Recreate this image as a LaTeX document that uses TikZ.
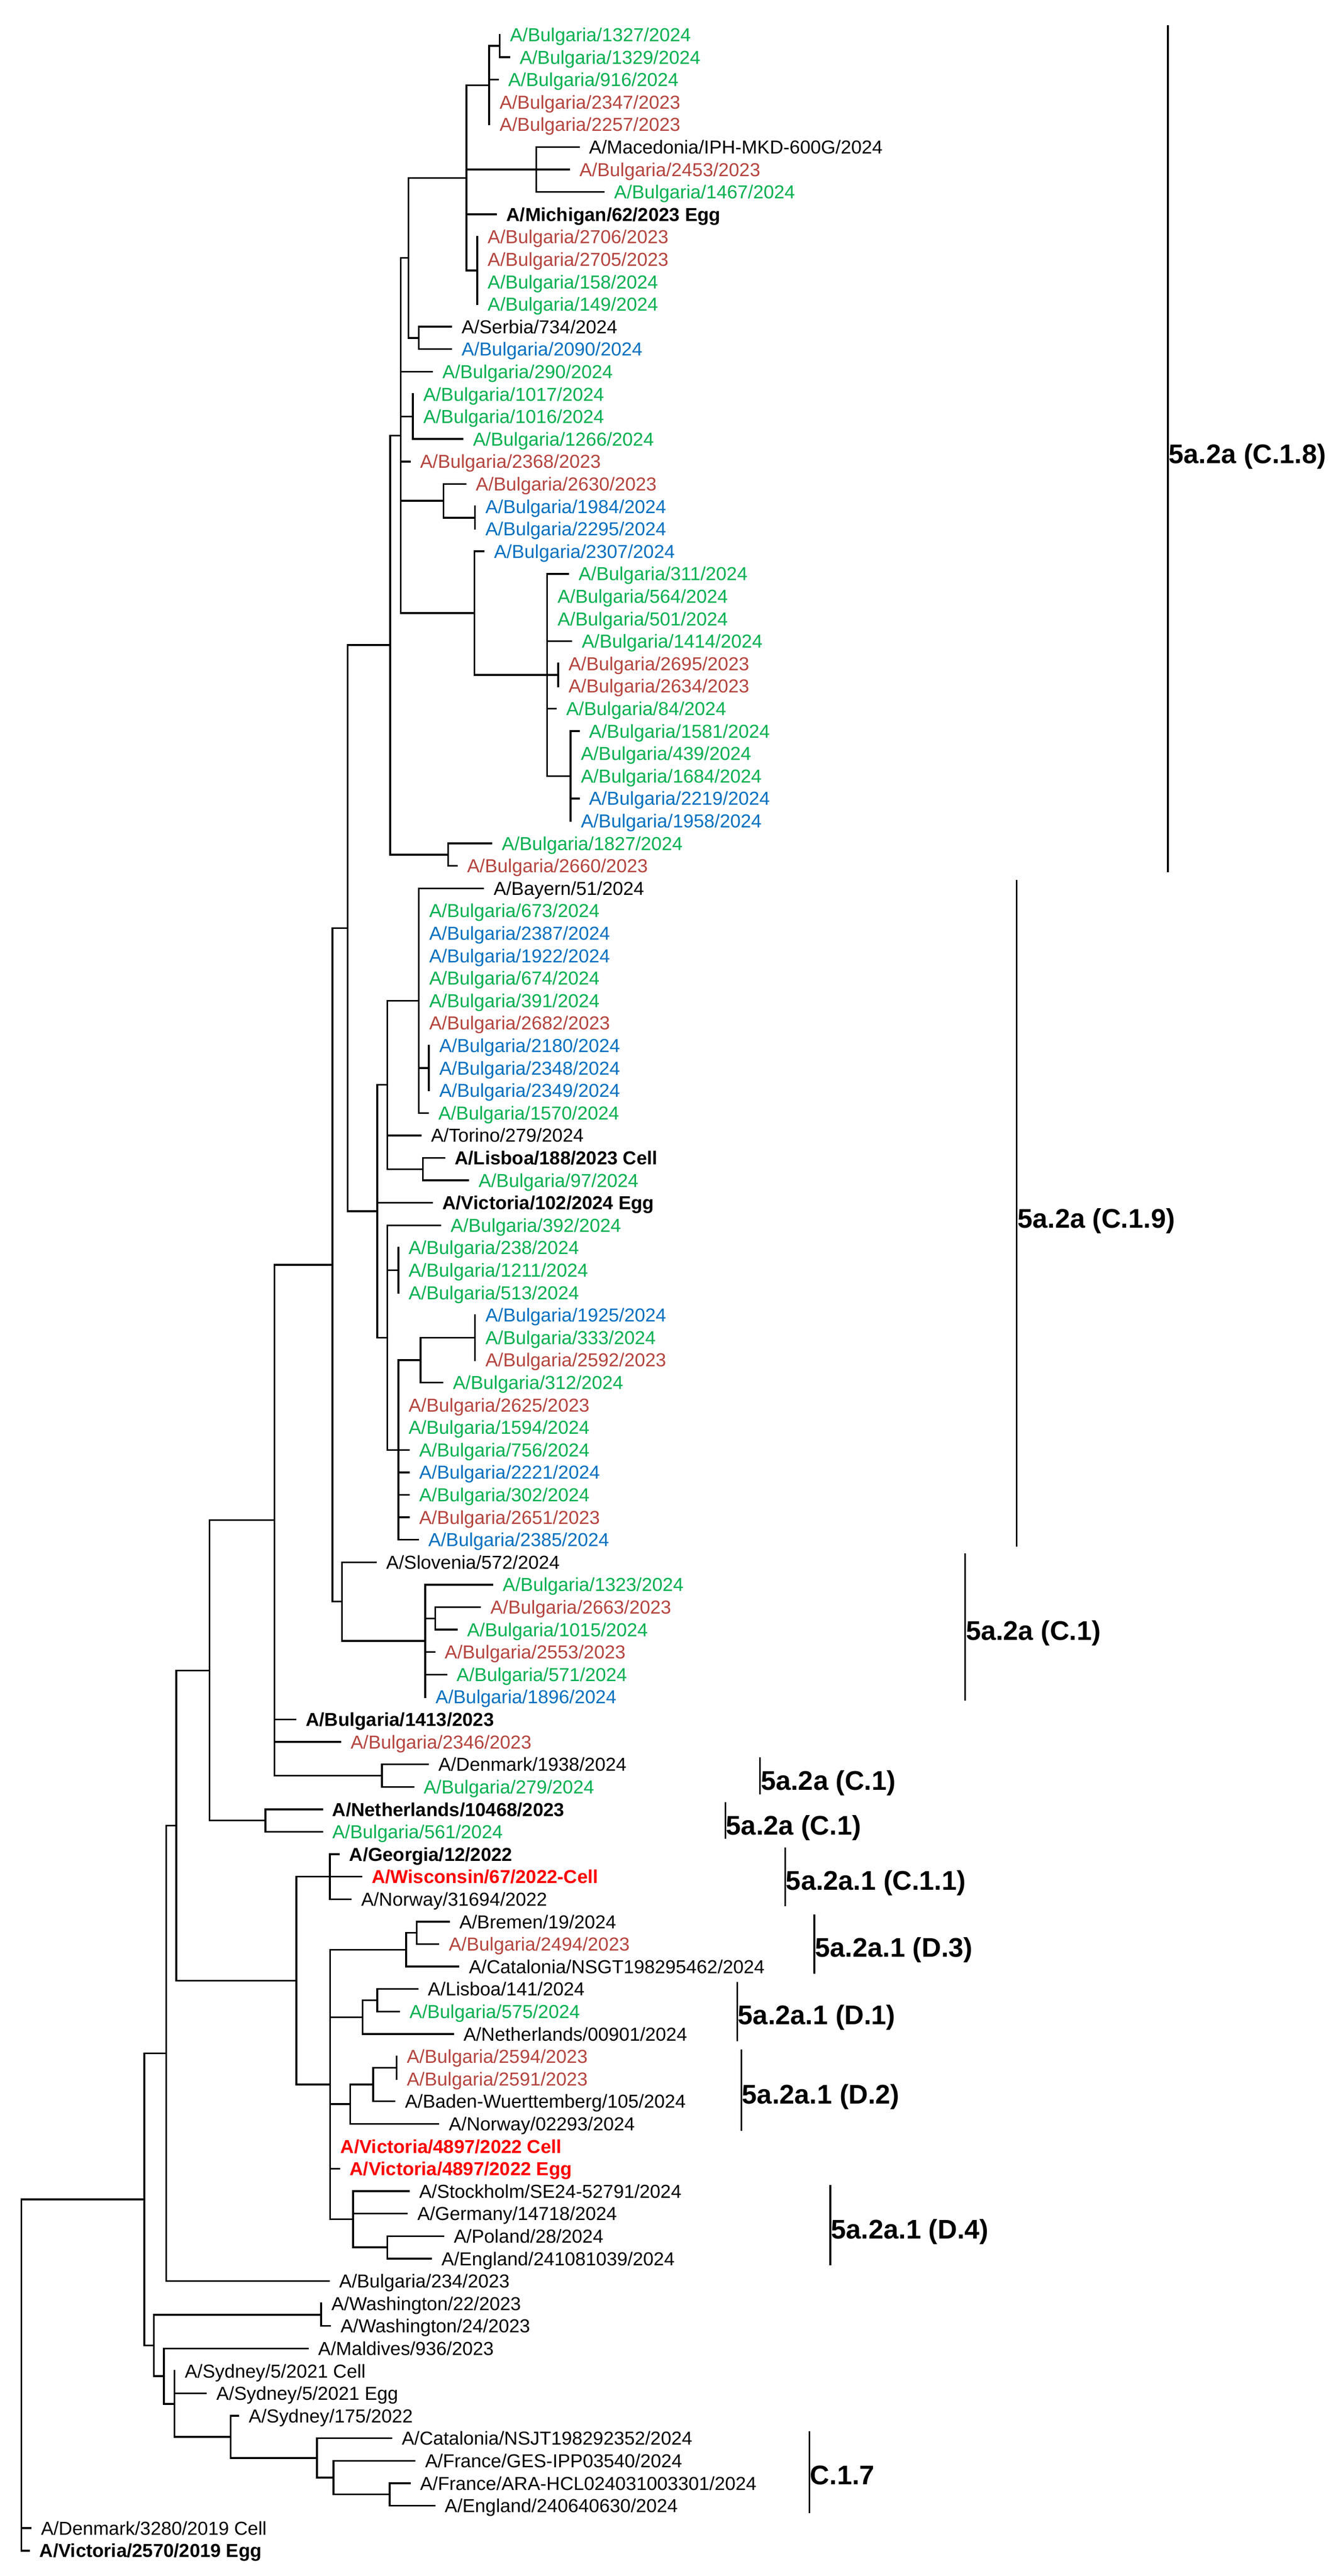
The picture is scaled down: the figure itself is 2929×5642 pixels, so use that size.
\documentclass[tikz,border=0pt]{standalone}
\usepackage{fontspec}
\setmainfont{Liberation Sans}
\definecolor{cg}{HTML}{00B050}
\definecolor{cr}{HTML}{B5443E}
\definecolor{cb}{HTML}{0070C0}
\definecolor{cR}{HTML}{FF0000}
\tikzset{
 br/.style={line width=1.1pt, line cap=rect},
 bk/.style={line width=1.1pt},
 lab/.style={anchor=west, inner sep=0pt, text height=8.4pt, text depth=0pt, font=\fontsize{11.7}{14}\selectfont},
 tg/.style={text=cg}, tr/.style={text=cr}, tb/.style={text=cb}, tk/.style={text=black},
 tkb/.style={text=black, font=\fontsize{11.7}{14}\selectfont\bfseries},
 trb/.style={text=cR, font=\fontsize{11.7}{14}\selectfont\bfseries},
 clab/.style={anchor=west, inner sep=0pt, text height=12pt, text depth=0pt, font=\fontsize{16.8}{20}\selectfont\bfseries}
}
\newcommand\lf[5]{\coordinate (#1) at (#2,{76+(#3-1)*49.2});\node[lab,#4] (#1t) at ([xshift=0.22cm]#1) {#5};}
\newcommand\edges[2]{\foreach \c in {#2}{\draw[br] (#1) |- (\c);}}
\begin{document}
\begin{tikzpicture}[x=0.01cm,y=-0.01cm]
\fill[white] (0,0) rectangle (2929,5642);
\useasboundingbox (0,0) rectangle (2929,5642);
% leaves
\lf{l1}{1094}{1}{tg}{A/Bulgaria/1327/2024}
\lf{l2}{1115}{2}{tg}{A/Bulgaria/1329/2024}
\lf{l3}{1090}{3}{tg}{A/Bulgaria/916/2024}
\lf{l4}{1071}{4}{tr}{A/Bulgaria/2347/2023}
\lf{l5}{1071}{5}{tr}{A/Bulgaria/2257/2023}
\lf{l6}{1267}{6}{tk}{A/Macedonia/IPH-MKD-600G/2024}
\lf{l7}{1246}{7}{tr}{A/Bulgaria/2453/2023}
\lf{l8}{1322}{8}{tg}{A/Bulgaria/1467/2024}
\lf{l9}{1086}{9}{tkb}{A/Michigan/62/2023 Egg}
\lf{l10}{1045}{10}{tr}{A/Bulgaria/2706/2023}
\lf{l11}{1045}{11}{tr}{A/Bulgaria/2705/2023}
\lf{l12}{1045}{12}{tg}{A/Bulgaria/158/2024}
\lf{l13}{1045}{13}{tg}{A/Bulgaria/149/2024}
\lf{l14}{988}{14}{tk}{A/Serbia/734/2024}
\lf{l15}{988}{15}{tb}{A/Bulgaria/2090/2024}
\lf{l16}{946}{16}{tg}{A/Bulgaria/290/2024}
\lf{l17}{904}{17}{tg}{A/Bulgaria/1017/2024}
\lf{l18}{904}{18}{tg}{A/Bulgaria/1016/2024}
\lf{l19}{1013}{19}{tg}{A/Bulgaria/1266/2024}
\lf{l20}{897}{20}{tr}{A/Bulgaria/2368/2023}
\lf{l21}{1019}{21}{tr}{A/Bulgaria/2630/2023}
\lf{l22}{1040}{22}{tb}{A/Bulgaria/1984/2024}
\lf{l23}{1040}{23}{tb}{A/Bulgaria/2295/2024}
\lf{l24}{1059}{24}{tb}{A/Bulgaria/2307/2024}
\lf{l25}{1244}{25}{tg}{A/Bulgaria/311/2024}
\lf{l26}{1198}{26}{tg}{A/Bulgaria/564/2024}
\lf{l27}{1198}{27}{tg}{A/Bulgaria/501/2024}
\lf{l28}{1251}{28}{tg}{A/Bulgaria/1414/2024}
\lf{l29}{1222}{29}{tr}{A/Bulgaria/2695/2023}
\lf{l30}{1222}{30}{tr}{A/Bulgaria/2634/2023}
\lf{l31}{1217}{31}{tg}{A/Bulgaria/84/2024}
\lf{l32}{1267}{32}{tg}{A/Bulgaria/1581/2024}
\lf{l33}{1249}{33}{tg}{A/Bulgaria/439/2024}
\lf{l34}{1249}{34}{tg}{A/Bulgaria/1684/2024}
\lf{l35}{1267}{35}{tb}{A/Bulgaria/2219/2024}
\lf{l36}{1249}{36}{tb}{A/Bulgaria/1958/2024}
\lf{l37}{1076}{37}{tg}{A/Bulgaria/1827/2024}
\lf{l38}{1000}{38}{tr}{A/Bulgaria/2660/2023}
\lf{l39}{1058}{39}{tk}{A/Bayern/51/2024}
\lf{l40}{917}{40}{tg}{A/Bulgaria/673/2024}
\lf{l41}{917}{41}{tb}{A/Bulgaria/2387/2024}
\lf{l42}{917}{42}{tb}{A/Bulgaria/1922/2024}
\lf{l43}{917}{43}{tg}{A/Bulgaria/674/2024}
\lf{l44}{917}{44}{tg}{A/Bulgaria/391/2024}
\lf{l45}{917}{45}{tr}{A/Bulgaria/2682/2023}
\lf{l46}{939}{46}{tb}{A/Bulgaria/2180/2024}
\lf{l47}{939}{47}{tb}{A/Bulgaria/2348/2024}
\lf{l48}{939}{48}{tb}{A/Bulgaria/2349/2024}
\lf{l49}{937}{49}{tg}{A/Bulgaria/1570/2024}
\lf{l50}{921}{50}{tk}{A/Torino/279/2024}
\lf{l51}{973}{51}{tkb}{A/Lisboa/188/2023 Cell}
\lf{l52}{1025}{52}{tg}{A/Bulgaria/97/2024}
\lf{l53}{946}{53}{tkb}{A/Victoria/102/2024 Egg}
\lf{l54}{964}{54}{tg}{A/Bulgaria/392/2024}
\lf{l55}{872}{55}{tg}{A/Bulgaria/238/2024}
\lf{l56}{872}{56}{tg}{A/Bulgaria/1211/2024}
\lf{l57}{872}{57}{tg}{A/Bulgaria/513/2024}
\lf{l58}{1040}{58}{tb}{A/Bulgaria/1925/2024}
\lf{l59}{1040}{59}{tg}{A/Bulgaria/333/2024}
\lf{l60}{1040}{60}{tr}{A/Bulgaria/2592/2023}
\lf{l61}{969}{61}{tg}{A/Bulgaria/312/2024}
\lf{l62}{872}{62}{tr}{A/Bulgaria/2625/2023}
\lf{l63}{872}{63}{tg}{A/Bulgaria/1594/2024}
\lf{l64}{895}{64}{tg}{A/Bulgaria/756/2024}
\lf{l65}{895}{65}{tb}{A/Bulgaria/2221/2024}
\lf{l66}{895}{66}{tg}{A/Bulgaria/302/2024}
\lf{l67}{895}{67}{tr}{A/Bulgaria/2651/2023}
\lf{l68}{915}{68}{tb}{A/Bulgaria/2385/2024}
\lf{l69}{823}{69}{tk}{A/Slovenia/572/2024}
\lf{l70}{1078}{70}{tg}{A/Bulgaria/1323/2024}
\lf{l71}{1051}{71}{tr}{A/Bulgaria/2663/2023}
\lf{l72}{1000}{72}{tg}{A/Bulgaria/1015/2024}
\lf{l73}{951}{73}{tr}{A/Bulgaria/2553/2023}
\lf{l74}{977}{74}{tg}{A/Bulgaria/571/2024}
\lf{l75}{931}{75}{tb}{A/Bulgaria/1896/2024}
\lf{l76}{647}{76}{tkb}{A/Bulgaria/1413/2023}
\lf{l77}{745}{77}{tr}{A/Bulgaria/2346/2023}
\lf{l78}{937}{78}{tk}{A/Denmark/1938/2024}
\lf{l79}{905}{79}{tg}{A/Bulgaria/279/2024}
\lf{l80}{705}{80}{tkb}{A/Netherlands/10468/2023}
\lf{l81}{705}{81}{tg}{A/Bulgaria/561/2024}
\lf{l82}{742}{82}{tkb}{A/Georgia/12/2022}
\lf{l83}{791}{83}{trb}{A/Wisconsin/67/2022-Cell}
\lf{l84}{768}{84}{tk}{A/Norway/31694/2022}
\lf{l85}{983}{85}{tk}{A/Bremen/19/2024}
\lf{l86}{960}{86}{tr}{A/Bulgaria/2494/2023}
\lf{l87}{1004}{87}{tk}{A/Catalonia/NSGT198295462/2024}
\lf{l88}{914}{88}{tk}{A/Lisboa/141/2024}
\lf{l89}{874}{89}{tg}{A/Bulgaria/575/2024}
\lf{l90}{992}{90}{tk}{A/Netherlands/00901/2024}
\lf{l91}{868}{91}{tr}{A/Bulgaria/2594/2023}
\lf{l92}{868}{92}{tr}{A/Bulgaria/2591/2023}
\lf{l93}{864}{93}{tk}{A/Baden-Wuerttemberg/105/2024}
\lf{l94}{960}{94}{tk}{A/Norway/02293/2024}
\lf{l95}{723}{95}{trb}{A/Victoria/4897/2022 Cell}
\lf{l96}{743}{96}{trb}{A/Victoria/4897/2022 Egg}
\lf{l97}{895}{97}{tk}{A/Stockholm/SE24-52791/2024}
\lf{l98}{891}{98}{tk}{A/Germany/14718/2024}
\lf{l99}{971}{99}{tk}{A/Poland/28/2024}
\lf{l100}{944}{100}{tk}{A/England/241081039/2024}
\lf{l101}{720}{101}{tk}{A/Bulgaria/234/2023}
\lf{l102}{703}{102}{tk}{A/Washington/22/2023}
\lf{l103}{723}{103}{tk}{A/Washington/24/2023}
\lf{l104}{674}{104}{tk}{A/Maldives/936/2023}
\lf{l105}{382}{105}{tk}{A/Sydney/5/2021 Cell}
\lf{l106}{451}{106}{tk}{A/Sydney/5/2021 Egg}
\lf{l107}{522}{107}{tk}{A/Sydney/175/2022}
\lf{l108}{857}{108}{tk}{A/Catalonia/NSJT198292352/2024}
\lf{l109}{908}{109}{tk}{A/France/GES-IPP03540/2024}
\lf{l110}{897}{110}{tk}{A/France/ARA-HCL024031003301/2024}
\lf{l111}{951}{111}{tk}{A/England/240640630/2024}
\lf{l112}{67}{112}{tk}{A/Denmark/3280/2019 Cell}
\lf{l113}{64}{113}{tkb}{A/Victoria/2570/2019 Egg}
% internal nodes
\coordinate (a1) at (1094,100.6);
\coordinate (a2) at (1071,186.7);
\coordinate (a3) at (1174,371.2);
\coordinate (a4) at (1045,592.6);
\coordinate (a5) at (1021,389.6);
\coordinate (a6) at (917,740.2);
\coordinate (a7) at (894,564.9);
\coordinate (a8) at (904,912.4);
\coordinate (a9) at (1040,1133.8);
\coordinate (a10) at (971,1096.9);
\coordinate (a11) at (1222,1478.2);
\coordinate (a12) at (1249,1699.6);
\coordinate (a13) at (1198,1478.2);
\coordinate (a14) at (1039,1342.9);
\coordinate (a15) at (877,953.9);
\coordinate (a16) at (981,1871.8);
\coordinate (a17) at (854,1412.85);
\coordinate (a18) at (939,2339.2);
\coordinate (a19) at (917,2191.6);
\coordinate (a20) at (926,2560.6);
\coordinate (a21) at (848,2376.1);
\coordinate (a22) at (872,2782);
\coordinate (a23) at (1040,2929.6);
\coordinate (a24) at (921,2978.8);
\coordinate (a25) at (872,3175.6);
\coordinate (a26) at (848,2929.6);
\coordinate (a27) at (826,2652.85);
\coordinate (a28) at (761,2032.85);
\coordinate (a29) at (953,3544.6);
\coordinate (a30) at (931,3593.8);
\coordinate (a31) at (749,3507.7);
\coordinate (a32) at (728,2770.3);
\coordinate (a33) at (836,3889);
\coordinate (a34) at (601,3329.6);
\coordinate (a35) at (581,3987.4);
\coordinate (a36) at (459,3658.5);
\coordinate (a37) at (722,4110.4);
\coordinate (a38) at (912,4233.4);
\coordinate (a39) at (889,4270.3);
\coordinate (a40) at (826,4381);
\coordinate (a41) at (794,4417.9);
\coordinate (a42) at (868,4528.6);
\coordinate (a43) at (817,4565.5);
\coordinate (a44) at (767,4608.55);
\coordinate (a45) at (848,4922.2);
\coordinate (a46) at (773,4860.7);
\coordinate (a47) at (723,4565.5);
\coordinate (a48) at (649,4337.95);
\coordinate (a49) at (386,3998.2);
\coordinate (a50) at (364,4497.1);
\coordinate (a51) at (703,5069.8);
\coordinate (a52) at (853,5463.4);
\coordinate (a53) at (730,5426.5);
\coordinate (a54) at (694,5383.45);
\coordinate (a55) at (505,5337.3);
\coordinate (a56) at (382,5265.05);
\coordinate (a57) at (359,5204.3);
\coordinate (a58) at (337,5137.05);
\coordinate (a59) at (316,4817.1);
\coordinate (root) at (47,4817.1);
% edges
\edges{a1}{l1,l2}
\edges{a2}{a1,l3,l4,l5}
\edges{a3}{l6,l7,l8}
\edges{a4}{l10,l11,l12,l13}
\edges{a5}{a2,a3,l9,a4}
\edges{a6}{l14,l15}
\edges{a7}{a5,a6}
\edges{a8}{l17,l18,l19}
\edges{a9}{l22,l23}
\edges{a10}{l21,a9}
\edges{a11}{l29,l30}
\edges{a12}{l32,l33,l34,l35,l36}
\edges{a13}{l25,l26,l27,l28,a11,l31,a12}
\edges{a14}{l24,a13}
\edges{a15}{a7,l16,a8,l20,a10,a14}
\edges{a16}{l37,l38}
\edges{a17}{a15,a16}
\edges{a18}{l46,l47,l48}
\edges{a19}{l39,l40,l41,l42,l43,l44,l45,a18,l49}
\edges{a20}{l51,l52}
\edges{a21}{a19,l50,a20}
\edges{a22}{l55,l56,l57}
\edges{a23}{l58,l59,l60}
\edges{a24}{a23,l61}
\edges{a25}{a24,l62,l63,l64,l65,l66,l67,l68}
\edges{a26}{l54,a22,a25}
\edges{a27}{a21,l53,a26}
\edges{a28}{a17,a27}
\edges{a29}{l71,l72}
\edges{a30}{l70,a29,l73,l74,l75}
\edges{a31}{l69,a30}
\edges{a32}{a28,a31}
\edges{a33}{l78,l79}
\edges{a34}{a32,l76,l77,a33}
\edges{a35}{l80,l81}
\edges{a36}{a34,a35}
\edges{a37}{l82,l83,l84}
\edges{a38}{l85,l86}
\edges{a39}{a38,l87}
\edges{a40}{l88,l89}
\edges{a41}{a40,l90}
\edges{a42}{l91,l92}
\edges{a43}{a42,l93}
\edges{a44}{a43,l94}
\edges{a45}{l99,l100}
\edges{a46}{l97,l98,a45}
\edges{a47}{a39,a41,a44,l95,l96,a46}
\edges{a48}{a37,a47}
\edges{a49}{a36,a48}
\edges{a50}{a49,l101}
\edges{a51}{l102,l103}
\edges{a52}{l110,l111}
\edges{a53}{l109,a52}
\edges{a54}{l108,a53}
\edges{a55}{l107,a54}
\edges{a56}{l105,l106,a55}
\edges{a57}{l104,a56}
\edges{a58}{a51,a57}
\edges{a59}{a50,a58}
\edges{root}{a59,l112,l113}
% clade brackets
\coordinate (c18t) at (2557,55); \coordinate (c18b) at (2557,1910);
\draw[bk] (c18t) -- (c18b);
\node[clab] (c18l) at (2558,994) {5a.2a (C.1.8)};
\coordinate (c19t) at (2226,1927); \coordinate (c19b) at (2226,3387);
\draw[bk] (c19t) -- (c19b);
\node[clab] (c19l) at (2227,2668) {5a.2a (C.1.9)};
\coordinate (c1at) at (2113,3402); \coordinate (c1ab) at (2113,3725);
\draw[bk] (c1at) -- (c1ab);
\node[clab] (c1al) at (2114,3571) {5a.2a (C.1)};
\coordinate (c1bt) at (1664,3849); \coordinate (c1bb) at (1664,3930);
\draw[bk] (c1bt) -- (c1bb);
\node[clab] (c1bl) at (1665,3900) {5a.2a (C.1)};
\coordinate (c1ct) at (1588,3947); \coordinate (c1cb) at (1588,4027);
\draw[bk] (c1ct) -- (c1cb);
\node[clab] (c1cl) at (1589,3998) {5a.2a (C.1)};
\coordinate (c11t) at (1719,4046); \coordinate (c11b) at (1719,4175);
\draw[bk] (c11t) -- (c11b);
\node[clab] (c11l) at (1720,4118) {5a.2a.1 (C.1.1)};
\coordinate (d3t) at (1783,4193); \coordinate (d3b) at (1783,4323);
\draw[bk] (d3t) -- (d3b);
\node[clab] (d3l) at (1784,4265) {5a.2a.1 (D.3)};
\coordinate (d1t) at (1614,4341); \coordinate (d1b) at (1614,4471);
\draw[bk] (d1t) -- (d1b);
\node[clab] (d1l) at (1615,4413) {5a.2a.1 (D.1)};
\coordinate (d2t) at (1623,4489); \coordinate (d2b) at (1623,4667);
\draw[bk] (d2t) -- (d2b);
\node[clab] (d2l) at (1624,4587) {5a.2a.1 (D.2)};
\coordinate (d4t) at (1818,4785); \coordinate (d4b) at (1818,4962);
\draw[bk] (d4t) -- (d4b);
\node[clab] (d4l) at (1819,4882) {5a.2a.1 (D.4)};
\coordinate (c17t) at (1772,5325); \coordinate (c17b) at (1772,5504);
\draw[bk] (c17t) -- (c17b);
\node[clab] (c17l) at (1773,5420) {C.1.7};
\end{tikzpicture}
\end{document}
